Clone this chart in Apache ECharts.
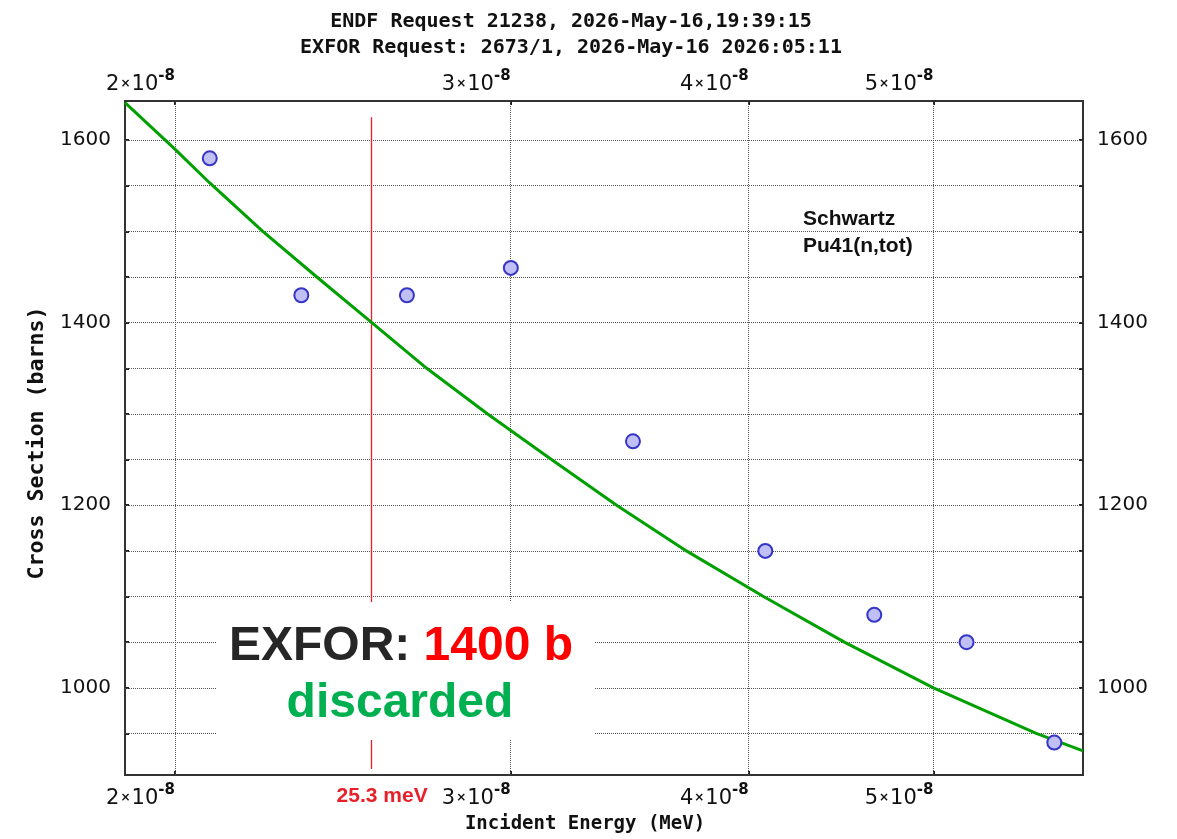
<!DOCTYPE html>
<html><head><meta charset="utf-8">
<script src="https://cdn.jsdelivr.net/npm/echarts@6/dist/echarts.min.js"></script>
<style>html,body{margin:0;padding:0;background:#fff}#c{width:1177px;height:839px}</style>
</head><body><div id="c"></div>
<script>
// ---- data ----
const titleLines = ['ENDF Request 21238, 2026-May-16,19:39:15', 'EXFOR Request: 2673/1, 2026-May-16 2026:05:11'];
const xAxisTitle = 'Incident Energy (MeV)';
const yAxisTitle = 'Cross Section (barns)';
const xMin = 1.883e-8, xMax = 5.99e-8;
const yMin = 904.5, yMax = 1642.8;
const xTickValues = [2e-8, 3e-8, 4e-8, 5e-8];
const yLabelValues = [1000, 1200, 1400, 1600];
const yGridValues = [950, 1000, 1050, 1100, 1150, 1200, 1250, 1300, 1350, 1400, 1450, 1500, 1550, 1600];
// EXFOR points (Schwartz, Pu41(n,tot))
const exforEnergy = [2.086e-8, 2.330e-8, 2.647e-8, 3.001e-8, 3.478e-8, 4.081e-8, 4.655e-8, 5.204e-8, 5.786e-8];
const exforSigma  = [1580, 1430, 1430, 1460, 1270, 1150, 1080, 1050, 940];
// ENDF evaluated curve
const endfEnergy = [1.883e-8, 2.0e-8, 2.086e-8, 2.224e-8, 2.374e-8, 2.537e-8, 2.711e-8, 2.918e-8, 3.152e-8, 3.410e-8, 3.710e-8, 4.072e-8, 4.490e-8, 5.0e-8, 5.661e-8, 5.99e-8];
const endfSigma  = [1641, 1590, 1553, 1500, 1450, 1400, 1350, 1300, 1250, 1200, 1150, 1100, 1050, 1000, 950, 931];
const thermalEnergy = 2.535e-8;
const thermalLineRange = [911, 1625];
const thermalLabel = '25.3 meV';
const legendLines = ['Schwartz', 'Pu41(n,tot)'];

// ---- chart ----
const chart = echarts.init(document.getElementById('c'));
const tickFont = 'DejaVu Sans';
const xLabelRich = {
  n: {fontSize: 21, fontFamily: tickFont, color: '#111', lineHeight: 26, verticalAlign: 'bottom'},
  x: {fontSize: 12, fontFamily: tickFont, color: '#111', fontWeight: 'bold', lineHeight: 26, verticalAlign: 'bottom', padding: [0, 1, 5, 1]},
  e: {fontSize: 15, fontFamily: tickFont, color: '#111', fontWeight: 'bold', lineHeight: 26, verticalAlign: 'top'}
};
function sciLabel(v) {
  const e = Math.floor(Math.log10(v) + 1e-9);
  const m = Math.round(v / Math.pow(10, e));
  return '{n|' + m + '}{x|×}{n|10}{e|' + e + '}';
}
const gridLineStyle = {color: '#555', width: 1, type: [1, 1]};
const xCommon = {
  type: 'log', logBase: 10, min: xMin, max: xMax,
  axisLine: {show: false},
  axisTick: {show: true, inside: true, length: 4, customValues: xTickValues, lineStyle: {color: '#222', width: 2}},
  axisLabel: {customValues: xTickValues, formatter: sciLabel, rich: xLabelRich, align: 'right', margin: 8},
  splitLine: {show: false}
};
const yCommon = {
  type: 'value', min: yMin, max: yMax,
  axisLine: {show: false},
  axisTick: {show: true, inside: true, length: 4, customValues: yGridValues, lineStyle: {color: '#222', width: 2}},
  axisLabel: {customValues: yLabelValues, formatter: v => String(Math.round(v)), fontSize: 20, fontFamily: tickFont, color: '#111', margin: 14},
  splitLine: {show: false}
};

chart.setOption({
  animation: false,
  backgroundColor: '#fff',
  title: {
    text: titleLines.join('\n'), left: 566, top: 4, textAlign: 'center',
    textStyle: {fontFamily: 'DejaVu Sans Mono', fontWeight: 'bold', fontSize: 20, color: '#111', lineHeight: 26}
  },
  grid: {left: 125, top: 101, right: 94, bottom: 61, show: true, borderColor: '#333', borderWidth: 2, backgroundColor: 'transparent'},
  xAxis: [
    Object.assign({}, xCommon, {position: 'bottom', name: xAxisTitle, nameLocation: 'middle', nameGap: 40,
      nameTextStyle: {fontFamily: 'DejaVu Sans Mono', fontWeight: 'bold', fontSize: 19, color: '#111', padding: [0, 38, 0, 0]}}),
    Object.assign({}, xCommon, {position: 'top', axisLabel: Object.assign({}, xCommon.axisLabel, {margin: 6})})
  ],
  yAxis: [
    Object.assign({}, yCommon, {position: 'left', name: yAxisTitle, nameLocation: 'middle', nameGap: 77,
      nameTextStyle: {fontFamily: 'DejaVu Sans Mono', fontWeight: 'bold', fontSize: 21.6, color: '#111', padding: [0, 10, 0, 0]}}),
    Object.assign({}, yCommon, {position: 'right'})
  ],
  graphic: [
    {type: 'rect', shape: {x: 217, y: 602, width: 378, height: 138}, style: {fill: '#fff'}, z: 100},
    {type: 'text', x: 401, y: 647, z: 101, style: {
      text: '{a|EXFOR: }{b|1400 b}', align: 'center', verticalAlign: 'middle',
      rich: {
        a: {fontSize: 48, fontWeight: 'bold', fontFamily: 'Liberation Sans', fill: '#262626'},
        b: {fontSize: 48, fontWeight: 'bold', fontFamily: 'Liberation Sans', fill: '#ff0000'}
      }}},
    {type: 'text', x: 400, y: 704, z: 101, style: {
      text: 'discarded', align: 'center', verticalAlign: 'middle',
      fontSize: 48, fontWeight: 'bold', fontFamily: 'Liberation Sans', fill: '#00b050'}},
    {type: 'text', x: 803, y: 206, z: 101, style: {
      text: legendLines.join('\n'), align: 'left', verticalAlign: 'top', lineHeight: 27,
      fontSize: 21, fontWeight: 'bold', fontFamily: 'Liberation Sans', fill: '#111'}}
  ],
  series: [
    {
      name: 'grid-x', type: 'line', data: [], silent: true,
      markLine: {symbol: ['none', 'none'], silent: true, animation: false, label: {show: false},
        lineStyle: gridLineStyle, data: xTickValues.map(v => [{coord: [v, yMin]}, {coord: [v, yMax]}])}
    },
    {
      name: 'grid-y', type: 'line', data: [], silent: true,
      markLine: {symbol: ['none', 'none'], silent: true, animation: false, label: {show: false},
        lineStyle: gridLineStyle, data: yGridValues.map(v => ({yAxis: v}))}
    },
    {
      name: 'thermal', type: 'line', data: [], silent: true, color: '#e8202a',
      markLine: {symbol: ['none', 'none'], silent: true, animation: false,
        lineStyle: {color: '#e8202a', width: 1.3, type: 'solid', opacity: 1},
        label: {show: true, position: 'start', formatter: thermalLabel, color: '#e8202a', fontWeight: 'bold',
          fontSize: 21, fontFamily: 'Liberation Sans', distance: 17, padding: [0, 0, 0, 22]},
        data: [[{coord: [thermalEnergy, thermalLineRange[0]], lineStyle: {color: '#e8202a'}}, {coord: [thermalEnergy, thermalLineRange[1]]}]]}
    },
    {
      name: 'ENDF', type: 'line', data: endfEnergy.map((e, i) => [e, endfSigma[i]]),
      showSymbol: false, smooth: false, lineStyle: {color: '#00a000', width: 3}, z: 5
    },
    {
      name: 'EXFOR', type: 'scatter', data: exforEnergy.map((e, i) => [e, exforSigma[i]]),
      symbol: 'circle', symbolSize: 14,
      itemStyle: {color: '#c0c0f6', borderColor: '#3535c8', borderWidth: 2, opacity: 1}, z: 6
    }
  ]
});
</script>
</body></html>
